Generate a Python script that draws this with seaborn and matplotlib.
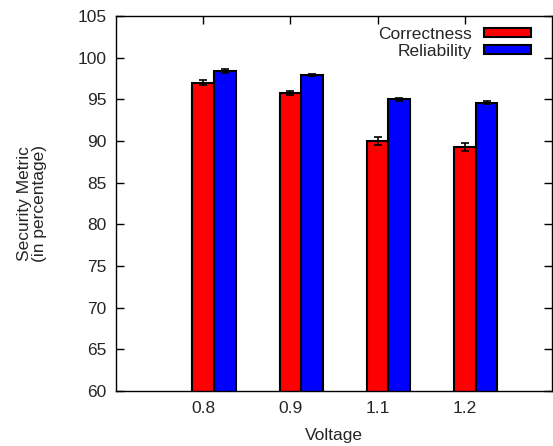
import pandas as pd
import matplotlib
matplotlib.use("Agg")
import matplotlib.pyplot as plt
import seaborn as sns

voltages = ["0.8", "0.9", "1.1", "1.2"]
correctness = [97.0, 95.8, 90.0, 89.3]
correctness_err = [0.3, 0.25, 0.5, 0.45]
reliability = [98.4, 97.9, 95.0, 94.6]
reliability_err = [0.2, 0.1, 0.2, 0.15]

df = pd.DataFrame({
    "Voltage": voltages * 2,
    "value": correctness + reliability,
    "metric": ["Correctness"] * 4 + ["Reliability"] * 4,
})

sns.set_style("ticks")
plt.rcParams["font.family"] = ["Liberation Sans", "DejaVu Sans"]
plt.rcParams["xtick.direction"] = "in"
plt.rcParams["ytick.direction"] = "in"
plt.rcParams["xtick.top"] = True
plt.rcParams["ytick.right"] = True

fig = plt.figure(figsize=(5.53, 4.46), dpi=100)
ax = fig.add_axes([0.21, 0.123, 0.788, 0.841])

sns.barplot(
    data=df, x="Voltage", y="value", hue="metric",
    palette=["#ff0000", "#0000ff"], saturation=1, width=0.5, gap=0,
    edgecolor="black", linewidth=1.5, errorbar=None, ax=ax
)

# error bars on top of each bar
for cont, errs in zip(ax.containers, [correctness_err, reliability_err]):
    xs = [b.get_x() + b.get_width() / 2 for b in cont]
    ys = [b.get_height() for b in cont]
    ax.errorbar(xs, ys, yerr=errs, fmt="none", ecolor="black",
                elinewidth=1.2, capsize=3, capthick=1.2)

ax.set_ylim(60, 105)
ax.set_yticks(range(60, 106, 5))
ax.set_xticks([i - 0.125 for i in range(len(voltages))])
ax.set_xticklabels(voltages)
ax.set_xlim(-1.125, 3.875)

ax.tick_params(axis="both", labelsize=12.5, length=6, width=1, color="black", pad=7)
ax.set_xlabel("Voltage", fontsize=12.5, labelpad=9)
ax.set_ylabel("Security Metric\n(in percentage)", fontsize=12.5, labelpad=22,
              linespacing=1.0)
for s in ax.spines.values():
    s.set_visible(True)
    s.set_color("black")
    s.set_linewidth(1)

ax.legend(loc="upper right", bbox_to_anchor=(0.968, 0.99), borderaxespad=0,
          frameon=False, markerfirst=False,
          handlelength=2.7, handleheight=0.45, labelspacing=0.12,
          handletextpad=0.7, fontsize=12.5)

fig.savefig("out.png", dpi=100)
